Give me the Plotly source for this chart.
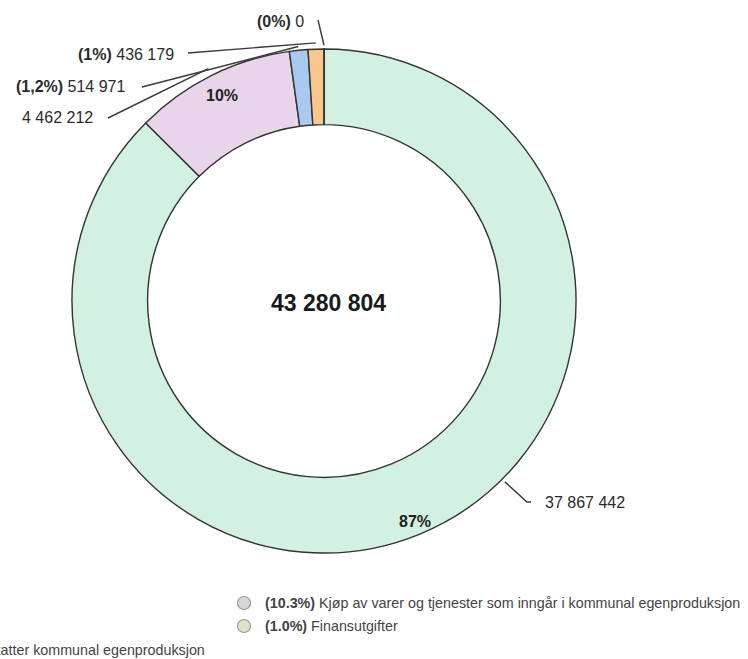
import math
import plotly.graph_objects as go

# ---- data ----
categories = [
    "Lønn og sosiale utgifter",
    "Kjøp av varer og tjenester som inngår i kommunal egenproduksjon",
    "Kjøp av varer og tjenester som erstatter kommunal egenproduksjon",
    "Finansutgifter",
    "Overføringsutgifter",
]
values = [37867442, 4462212, 514971, 436179, 0]
colors = ["#d3f1e0", "#e9d5ea", "#a9c9f1", "#f7c78b", "#f3dfa2"]

total = sum(values)


def fmt_int(v):
    return f"{v:,}".replace(",", " ")


def fmt_pct_short(p):
    s = f"{p:.1f}".rstrip("0").rstrip(".")
    return s.replace(".", ",")


# ---- geometry (pixels) ----
W, H = 748, 659
CX, CY, R = 324, 301, 252
ML, MT = CX - R, CY - R
MR, MB = W - (CX + R), H - (CY + R)


def px2paper(px, py):
    return (px - ML) / (2 * R), (CY + R - py) / (2 * R)


def ring_point(angle_deg, rfac):
    a = math.radians(angle_deg)
    return CX + rfac * R * math.sin(a), CY - rfac * R * math.cos(a)


# mid angle of each slice, clockwise from 12 o'clock
mid_angles = []
cum = 0.0
for v in values:
    mid_angles.append((cum + v / 2) / total * 360.0)
    cum += v

fig = go.Figure(
    go.Pie(
        labels=categories,
        values=values,
        hole=0.70,
        sort=False,
        direction="clockwise",
        rotation=0,
        textinfo="none",
        marker=dict(colors=colors, line=dict(color="#333333", width=1.4)),
        domain=dict(x=[0, 1], y=[0, 1]),
        showlegend=False,
        hoverinfo="label+value+percent",
    )
)

annotations = []
shapes = []
LINE = dict(color="#3a3a3a", width=1.4)
LABEL_FONT = dict(family="Liberation Sans, Arial, sans-serif", size=16, color="#2b2b2b")

# percentage labels inside the two large slices
inside = {0: 0.947, 1: 0.91}
for i, rf in inside.items():
    x, y = ring_point(mid_angles[i], rf)
    px, py = px2paper(x, y)
    annotations.append(dict(
        x=px, y=py, xref="paper", yref="paper", showarrow=False,
        xanchor="center", yanchor="middle",
        text=f"<b>{round(100 * values[i] / total)}%</b>",
        font=dict(family="Liberation Sans, Arial, sans-serif", size=16, color="#222"),
    ))

# outside value labels with connector lines
outside = [
    # index, text anchor point, x-anchor, connector start, optional elbow, angle override, ring factor
    dict(i=0, text_at=(543, 502), xanchor="left", start=(531, 502), elbow=(527, 502), angle=135, rf=1.015),
    dict(i=1, text_at=(95, 118), xanchor="right", start=(108, 118), elbow=None, angle=None, rf=1.03),
    dict(i=2, text_at=(128, 87), xanchor="right", start=(142, 87), elbow=None, angle=None, rf=1.015),
    dict(i=3, text_at=(176, 55), xanchor="right", start=(188, 53), elbow=None, angle=None, rf=1.025),
    dict(i=4, text_at=(306, 22), xanchor="right", start=(318, 20), elbow=None, angle=None, rf=1.015),
]
for o in outside:
    i = o["i"]
    v = values[i]
    if i <= 1:
        txt = fmt_int(v)
    else:
        txt = f"<b>({fmt_pct_short(100 * v / total)}%)</b> {fmt_int(v)}"
    tx, ty = px2paper(*o["text_at"])
    annotations.append(dict(
        x=tx, y=ty, xref="paper", yref="paper", showarrow=False,
        xanchor=o["xanchor"], yanchor="middle", text=txt, font=LABEL_FONT,
    ))
    ang = o["angle"] if o["angle"] is not None else mid_angles[i]
    end = ring_point(ang, o["rf"])
    pts = [o["start"]]
    if o["elbow"]:
        pts.append(o["elbow"])
    pts.append(end)
    ppts = [px2paper(*p) for p in pts]
    path = "M " + " L ".join(f"{a:.5f},{b:.5f}" for a, b in ppts)
    shapes.append(dict(type="path", xref="paper", yref="paper", path=path, line=LINE))

# total in the centre
cx_p, cy_p = px2paper(CX + 4, 303)
annotations.append(dict(
    x=cx_p, y=cy_p, xref="paper", yref="paper", showarrow=False,
    xanchor="center", yanchor="middle",
    text=f"<b>{fmt_int(total)}</b>",
    font=dict(family="Liberation Sans, Arial, sans-serif", size=23, color="#1a1a1a"),
))

# legend entries (drawn manually)
LEG_FONT = dict(family="Liberation Sans, Arial, sans-serif", size=14.3, color="#444444")
legend_rows = [
    dict(i=1, marker=(244, 603), fill="#d8d5dc"),
    dict(i=3, marker=(244, 626), fill="#dfe1c8"),
]
for row in legend_rows:
    i = row["i"]
    mx, my = row["marker"]
    x0, y0 = px2paper(mx - 6.5, my + 6.5)
    x1, y1 = px2paper(mx + 6.5, my - 6.5)
    shapes.append(dict(type="circle", xref="paper", yref="paper", x0=x0, y0=y0, x1=x1, y1=y1,
                       fillcolor=row["fill"], line=dict(color="#9a9a9a", width=1.2)))
    tx, ty = px2paper(mx + 19, my)
    annotations.append(dict(
        x=tx, y=ty, xref="paper", yref="paper", showarrow=False, xanchor="left", yanchor="middle",
        text=f"<b>({100 * values[i] / total:.1f}%)</b> {categories[i]}", font=LEG_FONT,
    ))

# third legend row of the left column, running off the left edge
tx, ty = px2paper(207, 650)
annotations.append(dict(
    x=tx, y=ty, xref="paper", yref="paper", showarrow=False, xanchor="right", yanchor="middle",
    text=f"<b>({100 * values[2] / total:.1f}%)</b> {categories[2]}", font=LEG_FONT,
))

fig.update_layout(
    width=W, height=H,
    margin=dict(l=ML, r=MR, t=MT, b=MB, autoexpand=False),
    paper_bgcolor="white", plot_bgcolor="white",
    annotations=annotations, shapes=shapes,
)

fig.write_html("out.html")
